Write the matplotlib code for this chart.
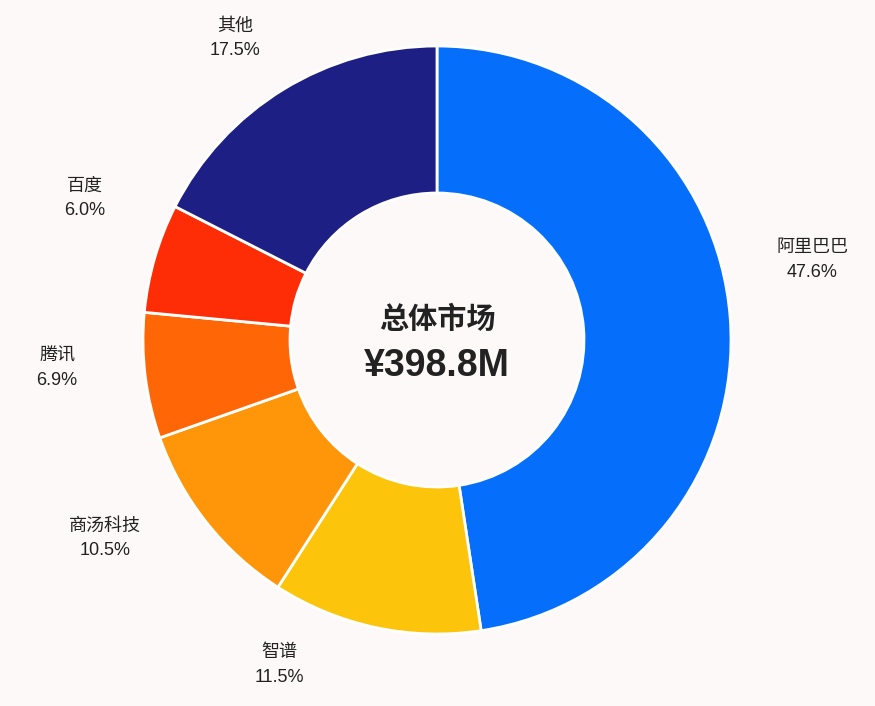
import matplotlib.pyplot as plt

labels = ['阿里巴巴', '智谱', '商汤科技', '腾讯', '百度', '其他']
shares = [47.6, 11.5, 10.5, 6.9, 6.0, 17.5]
colors = ['#056FFB', '#FCC40B', '#FF9508', '#FF6605', '#FF2D05', '#1E1F84']
total_label = '¥398.8M'
# label centre positions in pixels (layout)
label_px = [(812, 260), (279, 665), (105, 538), (57, 368), (85, 198), (235, 38)]

fam = ['Liberation Sans', 'Noto Sans CJK SC', 'DejaVu Sans']
plt.rcParams['font.family'] = fam
fig = plt.figure(figsize=(8.75, 7.06), dpi=100, facecolor='#FDF9F8')
W, H = 875, 706
cx, cy, r = 437, 340, 294
ax = fig.add_axes([(cx - r) / W, 1 - (cy + r) / H, 2 * r / W, 2 * r / H])
ax.set_facecolor('#FDF9F8')
wedges, _ = ax.pie(shares, colors=colors, startangle=90, counterclock=False,
                   radius=1, wedgeprops=dict(width=0.5, edgecolor='white', linewidth=2))
for l, s, (px, py) in zip(labels, shares, label_px):
    fig.text(px / W, 1 - py / H, f'{l}\n{s:.1f}%', ha='center', va='center',
             fontsize=13, color='#222222', linespacing=1.55)
ax.text(0, 0.07, '总体市场', ha='center', va='center', fontsize=21, fontweight='bold', color='#222222')
ax.text(0, -0.09, total_label, ha='center', va='center', fontsize=27, fontweight='bold', color='#222222')
ax.set_xlim(-1, 1)
ax.set_ylim(-1, 1)
ax.set_aspect('equal')
ax.axis('off')
fig.savefig('out.png', dpi=100, facecolor=fig.get_facecolor())
